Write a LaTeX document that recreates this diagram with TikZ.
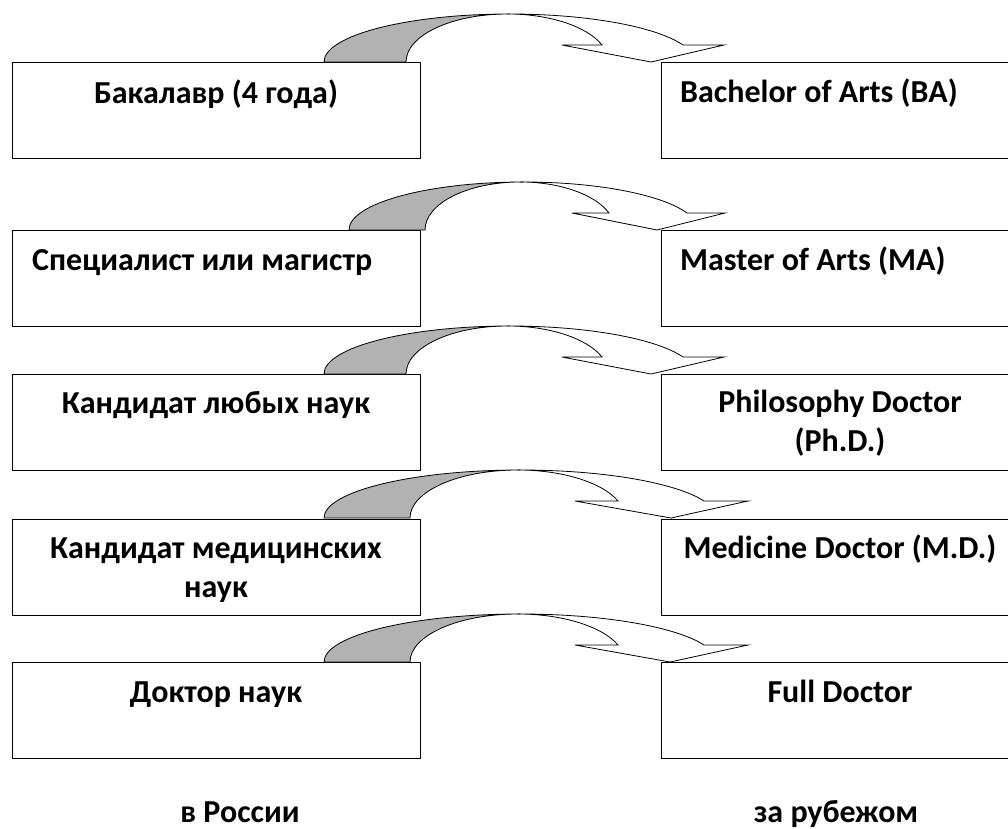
\documentclass[tikz,border=0pt]{standalone}
\usepackage{fontspec}
\setmainfont{Carlito}
% curved block arrow: base y, outer left, inner left, inner end, left wing, tip, right wing, outer end
\newcommand{\bendarrow}[8]{%
  \pgfmathsetmacro{\ao}{(#8-#2)/1.935}%
  \pgfmathsetmacro{\ai}{(#4-#3)/1.935}%
  \path[band] (#2,#1) arc[start angle=180,end angle=270,x radius=\ao,y radius=48]
    -- ({#3+\ai},{#1-48}) arc[start angle=270,end angle=180,x radius=\ai,y radius=48] -- cycle;
  \path[head] ({#2+\ao},{#1-48}) arc[start angle=270,end angle=339.3,x radius=\ao,y radius=48]
    -- (#7,{#1-17}) -- (#6,#1) -- (#5,{#1-17}) -- (#4,{#1-17})
    arc[start angle=339.3,end angle=270,x radius=\ai,y radius=48] -- cycle;
}
\begin{document}
\begin{tikzpicture}[x=1pt,y=-1pt,
    lbox/.style={draw,line width=1pt,minimum width=408pt,minimum height=96pt,inner sep=0pt},
    rbox/.style={draw,line width=1pt,minimum width=358pt,minimum height=96pt,inner sep=0pt},
    txt/.style={font=\fontsize{32}{38.5}\selectfont\bfseries,inner sep=0pt,align=center},
    band/.style={draw,line width=0.8pt,fill=black!30},
    head/.style={draw,line width=0.8pt,fill=white}]
  \useasboundingbox (0,0) rectangle (1008,828);
  \clip (0,0) rectangle (1008,828);

  % boxes, in Russia
  \node[lbox] (l1) at (216,110) {};
  \node[lbox] (l2) at (216,278) {};
  \node[lbox] (l3) at (216,422) {};
  \node[lbox] (l4) at (216,567) {};
  \node[lbox] (l5) at (216,710) {};
  % boxes, abroad
  \node[rbox] (r1) at (840,110) {};
  \node[rbox] (r2) at (840,278) {};
  \node[rbox] (r3) at (840,422) {};
  \node[rbox] (r4) at (840,567) {};
  \node[rbox] (r5) at (840,710) {};

  % texts (base of a two-line node is its last line)
  \node[txt,anchor=base] (lt1) at (216,103) {Бакалавр (4 года)};
  \node[txt,anchor=base west] (lt2) at (32,270) {Специалист или магистр};
  \node[txt,anchor=base] (lt3) at (216,413) {Кандидат любых наук};
  \node[txt,anchor=base] (lt4) at (216,597) {Кандидат медицинских\\наук};
  \node[txt,anchor=base] (lt5) at (216,702) {Доктор наук};
  \node[txt,anchor=base west] (rt1) at (680,102) {Bachelor of Arts (BA)};
  \node[txt,anchor=base west] (rt2) at (680,270) {Master of Arts (MA)};
  \node[txt,anchor=base] (rt3) at (840,451) {Philosophy Doctor\\(Ph.D.)};
  \node[txt,anchor=base] (rt4) at (840,558) {Medicine Doctor (M.D.)};
  \node[txt,anchor=base] (rt5) at (840,702) {Full Doctor};

  % curved arrows
  \bendarrow{62}{324}{406}{602}{562}{651}{724}{683}
  \bendarrow{230}{349}{425}{609}{572}{657}{725}{687}
  \bendarrow{374}{324}{406}{602}{562}{651}{724}{683}
  \bendarrow{518}{324}{410}{618}{575}{671}{748}{704}
  \bendarrow{662}{324}{410}{618}{575}{670}{748}{704}

  % column captions
  \node[txt,anchor=base] (ru) at (240,822) {в России};
  \node[txt,anchor=base] (ab) at (836,822) {за рубежом};
\end{tikzpicture}
\end{document}
